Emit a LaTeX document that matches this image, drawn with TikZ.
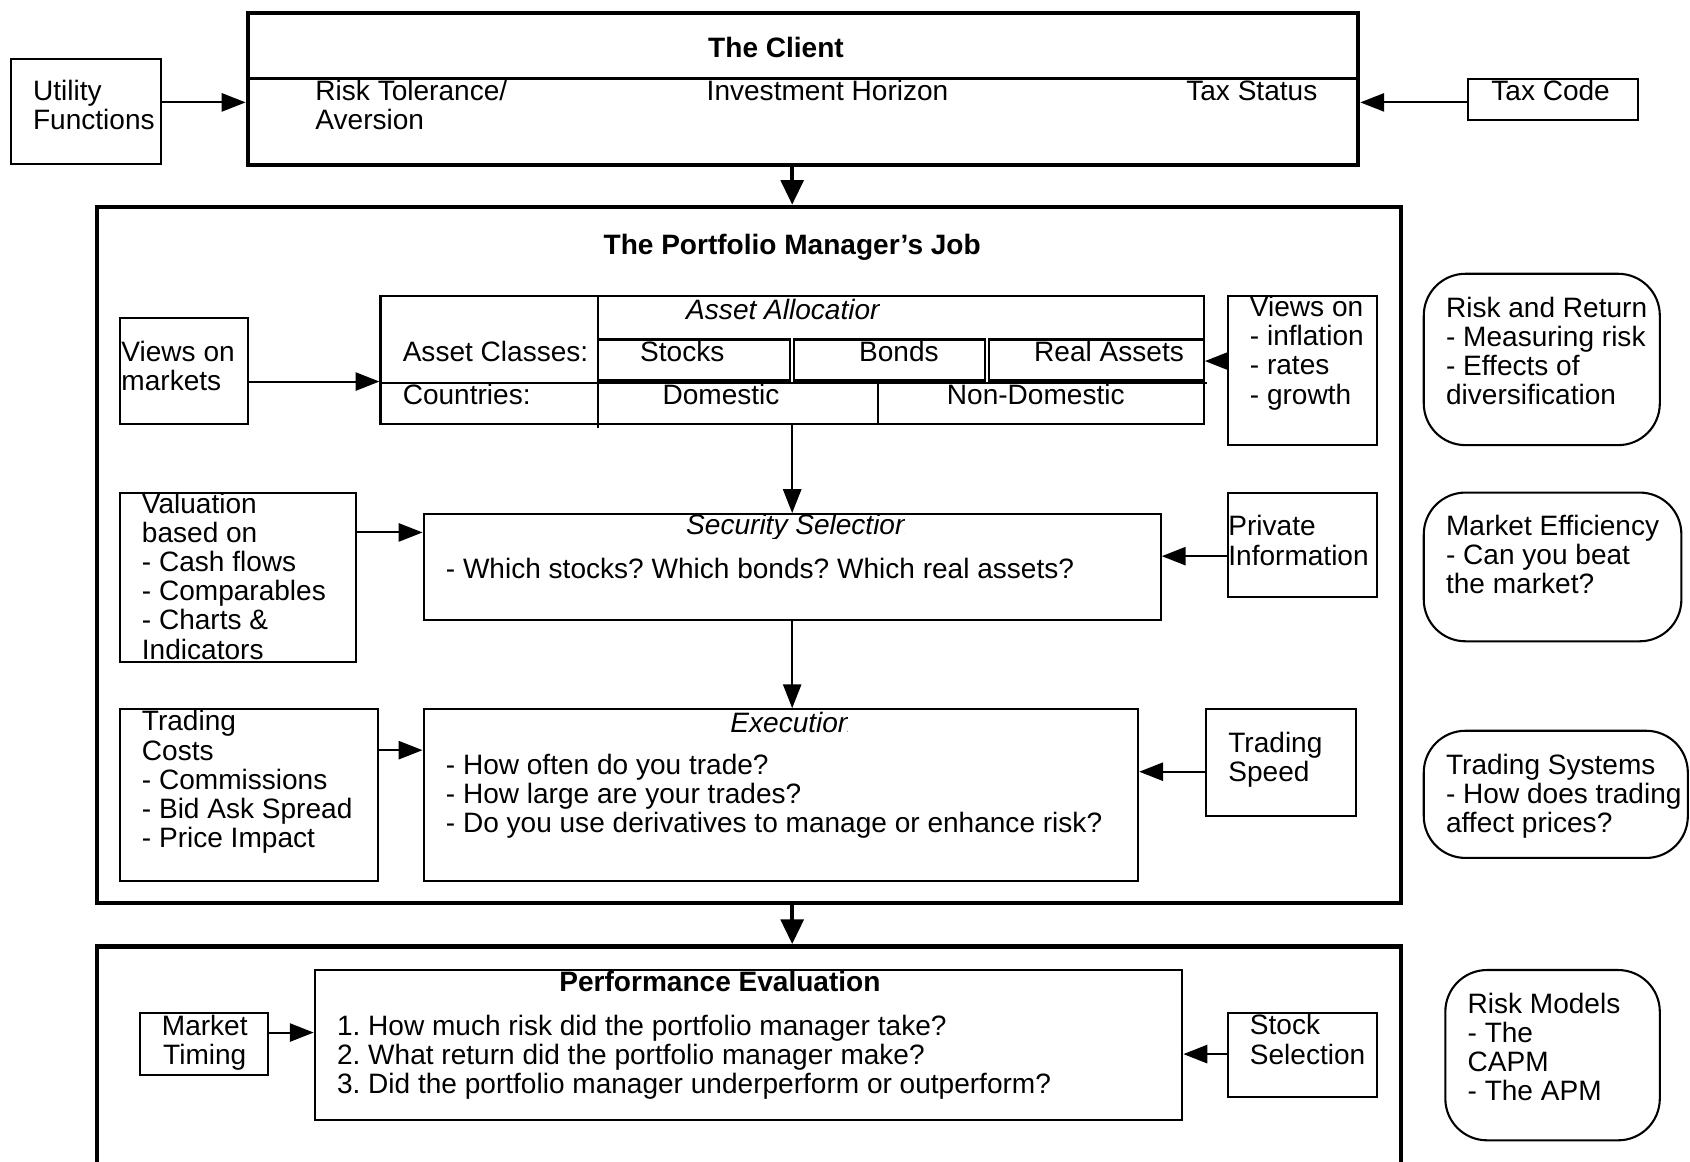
\documentclass[tikz,border=0pt]{standalone}
\usepackage{fontspec}
\setmainfont{Liberation Sans}
\usetikzlibrary{positioning,arrows.meta,fit}
\frenchspacing
\newcommand{\diagfont}{\fontsize{7.4}{7.7}\selectfont}
\tikzset{
  pbox/.style={draw, line width=0.55pt, inner sep=0pt},
  bigbox/.style={draw, line width=1.2pt, inner sep=0pt},
  roundbox/.style={draw, line width=0.55pt, inner sep=0pt, rounded corners=11pt},
  lbl/.style={anchor=west, align=left, inner sep=0pt},
  ital/.style={font=\diagfont\itshape},
  ttl/.style={font=\diagfont\bfseries, inner sep=0pt},
  arr/.style={line width=0.55pt, -{Triangle[length=6.3pt,width=4.8pt]}},
  bigarr/.style={line width=1pt, -{Triangle[length=6.5pt,width=6pt]}},
}
\begin{document}
\begin{tikzpicture}[x=0.01cm, y=-0.01cm, every node/.style={font=\diagfont}]
\useasboundingbox (0,0) rectangle (1568,1078);
\node[bigbox, fit={(230,12) (1260,153)}] (client) {};
\draw[line width=0.8pt] (client.west |- 0,73) -- (client.east |- 0,73);
\node[pbox, fit={(10,55) (149,152)}] (utility) {};
\node[pbox, fit={(1362,73) (1520,111)}] (taxcode) {};
\node[ttl] (clientttl) at (720,44) {The Client};
\node[lbl] (risktol) at (292,97.5) {Risk Tolerance/\\Aversion};
\node[lbl] (horizon) at (655,84) {Investment Horizon};
\node[lbl] (taxstatus) at (1100,84) {Tax Status};
\node[lbl] (utilitytxt) at (30,97.5) {Utility\\Functions};
\node[lbl] (taxcodetxt) at (1383,84) {Tax Code};

\node[bigbox, fit={(90,192) (1300,838)}] (pm) {};
\node[ttl] (pmttl) at (735,229) {The Portfolio Manager’s Job};

\node[pbox, fit={(111,295) (230,393)}] (viewsmkt) {};
\node[pbox, fit={(353,275) (1117,393)}] (alloc) {};
\node[pbox, fit={(555,315) (733,353)}] (stocks) {};
\node[pbox, fit={(737,315) (914,353)}] (bonds) {};
\node[pbox, fit={(918,315) (1117,353)}] (real) {};
\draw[line width=0.55pt] (555,275) -- (555,397);
\draw[line width=0.55pt] (alloc.west |- 0,355) -- (1120,355);
\draw[line width=0.55pt] (815,355) -- (815,393);
\node[pbox, fit={(1139,275) (1278,413)}] (viewsmacro) {};
\node[roundbox, fit={(1321,254) (1540,413)}] (riskret) {};
\begin{scope}
\clip (555,275) rectangle (816,315);
\node[lbl, ital] (allocttl) at (636,287) {Asset Allocation};
\end{scope}
\node[lbl] (viewsmkttxt) at (112,339.5) {Views on\\markets};
\node[lbl] (classestxt) at (373,326) {Asset Classes:};
\node[lbl] (countriestxt) at (373,366) {Countries:};
\node (stockstxt) at (633,326) {Stocks};
\node (bondstxt) at (834,326) {Bonds};
\node (realtxt) at (1029,326) {Real Assets};
\node (domestictxt) at (669,366) {Domestic};
\node (nondomtxt) at (961,366) {Non-Domestic};
\node[lbl] (viewsmacrotxt) at (1159,327.5) {Views on\\- inflation\\- rates\\- growth};
\node[lbl] (riskrettxt) at (1341,325.5) {Risk and Return\\- Measuring risk\\- Effects of\\diversification};

\node[pbox, fit={(111,457) (330,614)}] (valuation) {};
\node[pbox, fit={(393,477) (1077,575)}] (security) {};
\node[pbox, fit={(1139,457) (1278,554)}] (private) {};
\node[roundbox, fit={(1321,457) (1560,595)}] (efficiency) {};
\begin{scope}
\clip (393,477) rectangle (839,500);
\node[lbl, ital] (securityttl) at (636,489) {Security Selection};
\end{scope}
\node[lbl] (valuationtxt) at (131,534.5) {Valuation\\based on\\- Cash flows\\- Comparables\\- Charts \&\\Indicators};
\node[lbl] (securitytxt) at (413,527) {- Which stocks? Which bonds? Which real assets?};
\node[lbl] (privatetxt) at (1139,501.5) {Private\\Information};
\node[lbl] (efficiencytxt) at (1341,514.5) {Market Efficiency\\- Can you beat\\the market?};

\node[pbox, fit={(111,658) (351,817)}] (costs) {};
\node[pbox, fit={(393,658) (1056,817)}] (execution) {};
\node[pbox, fit={(1119,658) (1258,757)}] (speed) {};
\node[roundbox, fit={(1321,678) (1566,796)}] (systems) {};
\begin{scope}
\clip (393,658) rectangle (786,682);
\node[lbl, ital] (executionttl) at (677,670) {Execution};
\end{scope}
\node[lbl] (coststxt) at (131,725.5) {Trading\\Costs\\- Commissions\\- Bid Ask Spread\\- Price Impact};
\node[lbl] (executiontxt) at (413,739) {- How often do you trade?\\- How large are your trades?\\- Do you use derivatives to manage or enhance risk?};
\node[lbl] (speedtxt) at (1139,705) {Trading\\Speed};
\node[lbl] (systemstxt) at (1341,739) {Trading Systems\\- How does trading\\affect prices?};

\node[bigbox, fit={(90,878) (1300,1110)}] (perf) {};
\node[pbox, fit={(292,900) (1097,1039)}] (evaluation) {};
\node[pbox, fit={(130,940) (249,997)}] (timing) {};
\node[pbox, fit={(1139,940) (1278,1018)}] (stocksel) {};
\node[roundbox, fit={(1341,900) (1540,1058)}] (models) {};
\node[ttl] (evaluationttl) at (668,911) {Performance Evaluation};
\node[lbl] (evaluationtxt) at (312,981) {1. How much risk did the portfolio manager take?\\2. What return did the portfolio manager make?\\3. Did the portfolio manager underperform or outperform?};
\node[align=center, inner sep=0pt] (timingtxt) at (190,967.5) {Market\\Timing};
\node[lbl] (stockseltxt) at (1159,964.5) {Stock\\Selection};
\node[lbl] (modelstxt) at (1361,971.5) {Risk Models\\- The\\CAPM\\- The APM};

\draw[arr] (utility.east |- 0,95) -- (client.west |- 0,95);
\draw[arr] (taxcode.west |- 0,95) -- (client.east |- 0,95);
\draw[bigarr] (client.south -| alloc.north) -- (pm.north -| alloc.north);
\draw[arr] (viewsmkt.east |- 0,354) -- (alloc.west |- 0,354);
\draw[arr] (viewsmacro.west |- 0,335) -- (alloc.east |- 0,335);
\draw[arr] (alloc.south) -- (security.north -| alloc.south);
\draw[arr] (valuation.east |- 0,494) -- (security.west |- 0,494);
\draw[arr] (private.west |- 0,516) -- (security.east |- 0,516);
\draw[arr] (security.south -| alloc.south) -- (execution.north -| alloc.south);
\draw[arr] (costs.east |- 0,696) -- (execution.west |- 0,696);
\draw[arr] (speed.west |- 0,716) -- (execution.east |- 0,716);
\draw[bigarr] (pm.south -| alloc.south) -- (perf.north -| alloc.south);
\draw[arr] (timing.east |- 0,958) -- (evaluation.west |- 0,958);
\draw[arr] (stocksel.west |- 0,978) -- (evaluation.east |- 0,978);
\end{tikzpicture}
\end{document}
